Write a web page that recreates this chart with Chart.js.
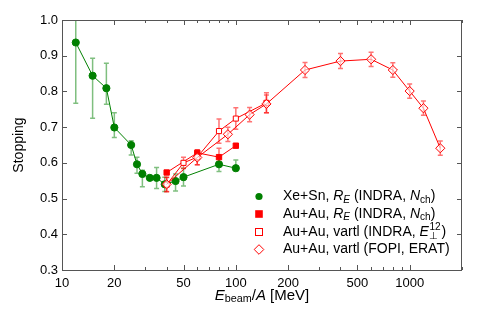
<!DOCTYPE html>
<html><head><meta charset="utf-8">
<script src="https://cdn.jsdelivr.net/npm/chart.js@4"></script>
<style>html,body{margin:0;padding:0;background:#fff}#wrap{width:500px;height:310px}</style>
</head><body><div id="wrap"><canvas id="c" width="500" height="310"></canvas></div>
<script>
// ---- data ----
const xeE    = [12, 15, 18, 20, 25, 27, 29, 32, 35, 39, 45, 50, 80, 100];
const xeStop = [0.937, 0.844, 0.809, 0.699, 0.650, 0.596, 0.569, 0.558, 0.558, 0.540, 0.549, 0.560, 0.596, 0.585];
const xeUp   = [0.17, 0.049, 0.07, 0.041, 0.012, 0.02, 0.01, 0.005, 0.029, 0.02, 0.02, 0.025, 0.02, 0.023];
const xeDown = [0.17, 0.119, 0.045, 0.028, 0.028, 0.025, 0.036, 0.005, 0.03, 0.02, 0.028, 0.025, 0.02, 0.005];

const auReE    = [40, 60, 80, 100];
const auReStop = [0.573, 0.628, 0.616, 0.648];
const auReErr  = [0, 0, 0.025, 0];

const auIndE    = [40, 50, 60, 80, 100, 150];
const auIndStop = [0.539, 0.600, 0.616, 0.689, 0.724, 0.768];
const auIndErr  = [0.02, 0.016, 0.021, 0.034, 0.03, 0.028];

const fopiE    = [40, 60, 90, 120, 150, 250, 400, 600, 800, 1000, 1200, 1500];
const fopiStop = [0.540, 0.615, 0.680, 0.735, 0.765, 0.860, 0.885, 0.890, 0.860, 0.801, 0.753, 0.641];
const fopiErr  = [0.02, 0.02, 0.02, 0.02, 0.025, 0.021, 0.021, 0.02, 0.02, 0.02, 0.02, 0.02];

const xMajor = [10, 20, 50, 100, 200, 500, 1000];
const xTicks = [10,20,30,40,50,60,70,80,90,100,200,300,400,500,600,700,800,900,1000,2000];
const yTicks = [0.3, 0.4, 0.5, 0.6, 0.7, 0.8, 0.9, 1.0];

const GREEN = '#008000', GREEN_ERR = 'rgba(0,128,0,0.5)';
const RED = '#ff0000', RED_ERR = 'rgba(255,0,0,0.55)';
const FONT = "'Liberation Sans', Arial, sans-serif";

function pts(E, S) { return E.map((x, i) => ({x: x, y: S[i]})); }

const datasets = [
  {label: 'Xe+Sn', data: pts(xeE, xeStop), errUp: xeUp, errDown: xeDown, errColor: GREEN_ERR,
   borderColor: GREEN, backgroundColor: GREEN, pointStyle: 'circle', pointRadius: 3.6,
   pointBackgroundColor: GREEN, pointBorderColor: GREEN, borderWidth: 1, order: 4},
  {label: 'AuRE', data: pts(auReE, auReStop), errUp: auReErr, errDown: auReErr, errColor: RED_ERR,
   borderColor: RED, backgroundColor: RED, pointStyle: 'rect', pointRadius: 3.8,
   pointBackgroundColor: RED, pointBorderColor: RED, borderWidth: 1, order: 3},
  {label: 'AuInd', data: pts(auIndE, auIndStop), errUp: auIndErr, errDown: auIndErr, errColor: RED_ERR,
   borderColor: RED, backgroundColor: '#fff', pointStyle: 'rect', pointRadius: 3.6,
   pointBackgroundColor: '#fff', pointBorderColor: RED, pointBorderWidth: 1, borderWidth: 1, order: 2},
  {label: 'FOPI', data: pts(fopiE, fopiStop), errUp: fopiErr, errDown: fopiErr, errColor: RED_ERR,
   borderColor: RED, backgroundColor: '#fff', pointStyle: 'rectRot', pointRadius: 4.6,
   pointBackgroundColor: 'rgba(255,255,255,0.6)', pointBorderColor: RED, pointBorderWidth: 1, borderWidth: 1, order: 1}
];

const errPlugin = {
  id: 'errbars',
  beforeDatasetsDraw(chart) {
    const ctx = chart.ctx, ys = chart.scales.y, a = chart.chartArea;
    ctx.save();
    ctx.beginPath(); ctx.rect(a.left, a.top, a.right - a.left, a.bottom - a.top); ctx.clip();
    chart.data.datasets.forEach((ds, di) => {
      const meta = chart.getDatasetMeta(di);
      ctx.strokeStyle = ds.errColor; ctx.lineWidth = 1.5;
      meta.data.forEach((el, i) => {
        const up = ds.errUp[i], dn = ds.errDown[i];
        if (!up && !dn) return;
        const v = ds.data[i].y;
        const yt = ys.getPixelForValue(v + up), yb = ys.getPixelForValue(v - dn);
        const x = el.x;
        ctx.beginPath();
        ctx.moveTo(x, yt); ctx.lineTo(x, yb);
        ctx.moveTo(x - 2.5, yt); ctx.lineTo(x + 2.5, yt);
        ctx.moveTo(x - 2.5, yb); ctx.lineTo(x + 2.5, yb);
        ctx.stroke();
      });
    });
    ctx.restore();
  }
};

function drawRich(ctx, x, y, segs, size) {
  // segs: [text, style] style: n normal, i italic, sub, isub, sup
  let cx = x;
  segs.forEach(s => {
    const t = s[0], st = s[1] || 'n';
    let f = size, dy = 0, it = false;
    if (st === 'i') it = true;
    if (st === 'sub') { f = size * 0.72; dy = 3.5; }
    if (st === 'isub') { f = size * 0.72; dy = 3.5; it = true; }
    ctx.font = (it ? 'italic ' : '') + f + 'px ' + FONT;
    ctx.fillText(t, cx, y + dy);
    cx += ctx.measureText(t).width;
  });
  return cx;
}

const decoPlugin = {
  id: 'deco',
  afterDraw(chart) {
    const ctx = chart.ctx, a = chart.chartArea, xs = chart.scales.x, ys = chart.scales.y;
    ctx.save();
    // frame
    ctx.strokeStyle = '#555'; ctx.lineWidth = 1;
    ctx.strokeRect(a.left + 0.5, a.top + 0.5, a.right - a.left - 1, a.bottom - a.top);
    // x ticks
    ctx.beginPath();
    xTicks.forEach(v => {
      const px = Math.round(xs.getPixelForValue(v)) + 0.5;
      const len = xMajor.includes(v) ? 5 : 3;
      ctx.moveTo(px, a.bottom); ctx.lineTo(px, a.bottom - len);
      ctx.moveTo(px, a.top); ctx.lineTo(px, a.top + len);
    });
    yTicks.forEach(v => {
      const py = Math.round(ys.getPixelForValue(v)) + 0.5;
      ctx.moveTo(a.left, py); ctx.lineTo(a.left + 5, py);
      ctx.moveTo(a.right, py); ctx.lineTo(a.right - 5, py);
    });
    ctx.stroke();

    // axis titles
    ctx.fillStyle = '#000';
    ctx.textBaseline = 'middle';
    ctx.font = '14px ' + FONT;
    ctx.save();
    ctx.translate(19, (a.top + a.bottom) / 2);
    ctx.rotate(-Math.PI / 2);
    ctx.textAlign = 'center';
    ctx.fillText('Stopping', 0, 0);
    ctx.restore();

    ctx.textAlign = 'left';
    const xsegs = [['E', 'i'], ['beam', 'sub'], ['/', 'n'], ['A', 'i'], [' [MeV]', 'n']];
    // measure width
    ctx.save(); ctx.globalAlpha = 0;
    const w = drawRich(ctx, 0, -100, xsegs, 15);
    ctx.restore();
    drawRich(ctx, (a.left + a.right) / 2 - w / 2, 296, xsegs, 15);

    // legend
    const lx = 259, tx = 283, rows = [196.5, 214, 232, 249.5];
    const fs = 14;
    // markers
    ctx.fillStyle = GREEN;
    ctx.beginPath(); ctx.arc(lx, rows[0], 3.6, 0, Math.PI * 2); ctx.fill();
    ctx.fillStyle = RED;
    ctx.fillRect(lx - 3.8, rows[1] - 3.8, 7.6, 7.6);
    ctx.strokeStyle = RED; ctx.lineWidth = 1;
    ctx.strokeRect(lx - 3.5, rows[2] - 3.5, 7, 7);
    ctx.beginPath();
    ctx.moveTo(lx, rows[3] - 4.8); ctx.lineTo(lx + 4.8, rows[3]); ctx.lineTo(lx, rows[3] + 4.8); ctx.lineTo(lx - 4.8, rows[3]); ctx.closePath();
    ctx.stroke();

    ctx.fillStyle = '#000';
    drawRich(ctx, tx, rows[0], [['Xe+Sn, '], ['R', 'i'], ['E', 'isub'], [' (INDRA, '], ['N', 'i'], ['ch', 'sub'], [')']], fs);
    drawRich(ctx, tx, rows[1], [['Au+Au, '], ['R', 'i'], ['E', 'isub'], [' (INDRA, '], ['N', 'i'], ['ch', 'sub'], [')']], fs);
    let cx = drawRich(ctx, tx, rows[2], [['Au+Au, vartl (INDRA, '], ['E', 'i']], fs);
    ctx.font = (fs * 0.72) + 'px ' + FONT;
    ctx.fillText('12', cx + 0.5, rows[2] - 5);
    ctx.fillText('\u22A5', cx + 0.5, rows[2] + 4.5);
    const sw = ctx.measureText('12').width;
    drawRich(ctx, cx + sw + 1.5, rows[2], [[')']], fs);
    drawRich(ctx, tx, rows[3], [['Au+Au, vartl (FOPI, ERAT)']], fs);
    ctx.restore();
  }
};

new Chart(document.getElementById('c'), {
  type: 'scatter',
  data: {datasets: datasets},
  options: {
    responsive: false,
    animation: false,
    showLine: true,
    layout: {padding: {left: 0, right: 38, top: 20, bottom: 0}},
    plugins: {legend: {display: false}, tooltip: {enabled: false}},
    elements: {line: {tension: 0}},
    scales: {
      x: {
        type: 'logarithmic', min: 10, max: 2000,
        grid: {display: false, drawTicks: false},
        border: {display: false},
        afterBuildTicks(s) { s.ticks = xTicks.map(v => ({value: v})); },
        afterFit(s) { s.height = 40; },
        ticks: {
          autoSkip: false, maxRotation: 0, padding: 6, color: '#000',
          font: {family: FONT, size: 13},
          callback: (v) => xMajor.includes(v) ? String(v) : ''
        }
      },
      y: {
        type: 'linear', min: 0.3, max: 1.0,
        grid: {display: false, drawTicks: false},
        border: {display: false},
        afterBuildTicks(s) { s.ticks = yTicks.map(v => ({value: v})); },
        afterFit(s) { s.width = 62; },
        ticks: {
          padding: 4, color: '#000', font: {family: FONT, size: 13},
          callback: (v) => Number(v).toFixed(1)
        }
      }
    }
  },
  plugins: [errPlugin, decoPlugin]
});
</script>
</body></html>
